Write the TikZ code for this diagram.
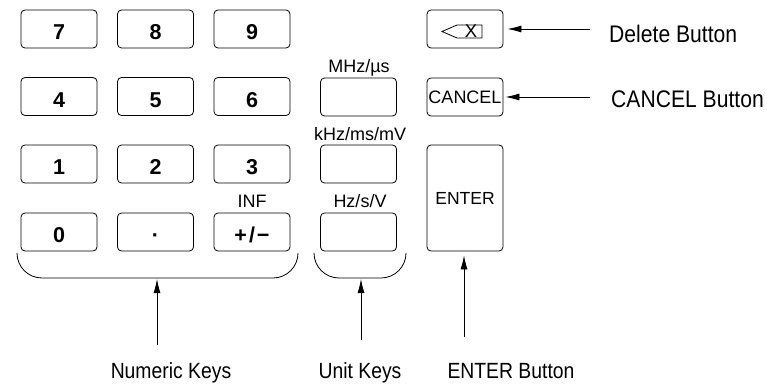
\documentclass[tikz,border=0pt]{standalone}
\usepackage{fontspec}
\setmainfont{Liberation Sans}
\newfontfamily\narrowfont[FakeStretch=0.88]{Liberation Sans}
\usetikzlibrary{arrows.meta}

\begin{document}
\begin{tikzpicture}[x=1pt, y=-1pt,
        key/.style={draw, rounded corners=4pt, minimum width=76pt, minimum height=38pt, inner sep=0pt, line width=0.8pt},
        digit/.style={key, font=\fontsize{21.5}{22}\selectfont\bfseries, text height=21pt, text depth=0pt},
        unitlbl/.style={font=\fontsize{18}{18}\selectfont, inner sep=0pt, anchor=base},
        callout/.style={font=\narrowfont\fontsize{22}{22}\selectfont, inner sep=0pt, anchor=base},
        pointer/.style={-{Latex[length=14pt, width=7pt]}, line width=0.8pt},
        brace/.style={rounded corners=25pt, line width=0.8pt}]
    \useasboundingbox (0,0) rectangle (767,385);

    % numeric keys
    \node[digit] (k7) at (59,29) {7};
    \node[digit] (k8) at (155.5,29) {8};
    \node[digit] (k9) at (252,29) {9};
    \node[digit] (k4) at (59,96.5) {4};
    \node[digit] (k5) at (155.5,96.5) {5};
    \node[digit] (k6) at (252,96.5) {6};
    \node[digit] (k1) at (59,164) {1};
    \node[digit] (k2) at (155.5,164) {2};
    \node[digit] (k3) at (252,164) {3};
    \node[digit] (k0) at (59,232) {0};
    \node[digit] (kdot) at (155.5,232) {·};
    \node[digit] (ksign) at (252,232) {+\kern2pt/\kern2pt−};
    \node[unitlbl] (inf) at (252,207) {INF};

    % unit keys
    \node[key] (mhz) at (358.5,97) {};
    \node[key] (khz) at (358.5,164) {};
    \node[key] (hz) at (358.5,232) {};
    \node[unitlbl] (mhzlbl) at (359,73) {MHz/µs};
    \node[unitlbl] (khzlbl) at (360,140) {kHz/ms/mV};
    \node[unitlbl] (hzlbl) at (360,207) {Hz/s/V};

    % right column
    \node[key] (del) at (465,29) {};
    \draw[line width=0.8pt] ([shift={(-23,2.5)}]del.center) -- ++(15,-6.5) -- ++(25,0) -- ++(0,13) -- ++(-25,0) -- cycle;
    \node[font=\fontsize{18.5}{18}\selectfont, inner sep=0pt] (delx) at ([shift={(6,2.5)}]del.center) {X};
    \node[key, font=\fontsize{18}{18}\selectfont] (cancel) at (465,97) {CANCEL};
    \node[key, minimum height=106pt, font=\fontsize{17.5}{17}\selectfont] (enter) at (465,198) {ENTER};

    % braces
    \draw[brace] (17,253) -- (17,278) -- (298,278) -- (298,253);
    \draw[brace] (314,253) -- (314,278) -- (406,278) -- (406,253);

    % callouts
    \node[callout, anchor=base west, font=\narrowfont\fontsize{24}{24}\selectfont] (dellbl) at (609,43) {Delete Button};
    \node[callout, anchor=base west, font=\narrowfont\fontsize{24}{24}\selectfont] (cancellbl) at (611,107) {CANCEL Button};
    \node[callout] (numlbl) at (171,378) {Numeric Keys};
    \node[callout] (unitlbl) at (360,378) {Unit Keys};
    \node[callout] (enterlbl) at (511,378) {ENTER Button};

    \coordinate (deltail) at (590,29);
    \coordinate (canceltail) at (590,97);
    \coordinate (numtail) at (157,345);
    \coordinate (numtip) at (157,279);
    \coordinate (unittail) at (361,340);
    \coordinate (unittip) at (361,279);
    \coordinate (entertail) at (464,337);

    \draw[pointer, shorten >=4pt] (deltail) -- (del.east);
    \draw[pointer, shorten >=2pt] (canceltail) -- (cancel.east);
    \draw[pointer] (numtail) -- (numtip);
    \draw[pointer] (unittail) -- (unittip);
    \draw[pointer, shorten >=4pt] (entertail) -- (entertail |- enter.south);
\end{tikzpicture}
\end{document}
